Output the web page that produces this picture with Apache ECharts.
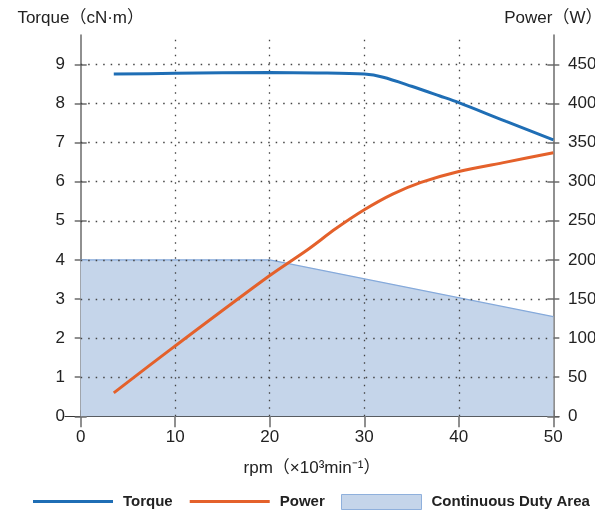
<!DOCTYPE html>
<html>
<head>
<meta charset="utf-8">
<script src="https://cdn.jsdelivr.net/npm/echarts@6.0.0/dist/echarts.min.js"></script>
<style>
  html, body { margin: 0; padding: 0; background: #fff; }
  #chart { width: 595px; height: 515px; }
</style>
</head>
<body>
<div id="chart"></div>
<script>
// 转矩曲线 (rpm x1000, cN·m)
var torqueData = [[3.5, 8.75], [10, 8.77], [20, 8.79], [25, 8.78], [30, 8.75], [32, 8.67], [35, 8.44], [38, 8.19], [40, 8.02], [45, 7.54], [50, 7.07]];
// 功率曲线 (rpm x1000, W)
var powerData = [[3.5, 30], [10, 90], [20, 180], [24, 213], [27, 240], [30, 264], [33, 284], [36, 299], [40, 313], [45, 325], [50, 337]];
// 连续工作区
var dutyData = [[0, 4], [20, 4], [50, 2.55]];
// 刻度
var xTicks = [0, 10, 20, 30, 40, 50];
var torqueTicks = [0, 1, 2, 3, 4, 5, 6, 7, 8, 9];
var powerTicks = [0, 50, 100, 150, 200, 250, 300, 350, 400, 450];
var gridX = [10, 20, 30, 40];
var gridY = [1, 2, 3, 4, 5, 6, 7, 8, 9];

var font = '"Liberation Sans", "Noto Sans CJK SC", sans-serif';
var axisColor = '#6b6b6b';
var textColor = '#222';
var torqueColor = '#1f6eb5';
var powerColor = '#e4612b';

// 点线网格 (markLine)
var gridLines = [];
gridX.forEach(function (v) { gridLines.push({ xAxis: v }); });
gridY.forEach(function (v) { gridLines.push([{ coord: [0, v] }, { coord: [50, v] }]); });

var legendText = { fontFamily: font, fontSize: 15, fontWeight: 'bold', color: textColor, padding: [0, 0, 0, 5] };

var myChart = echarts.init(document.getElementById('chart'));
var option = {
  animation: false,
  textStyle: { fontFamily: font },
  grid: { left: 65, right: 36, top: 35, bottom: 98.7, outerBoundsMode: 'none' },
  legend: [
    {
      left: 33, top: 494, width: 400, padding: 0,
      itemWidth: 80, itemHeight: 3, itemGap: 17,
      textStyle: legendText,
      data: [
        { name: 'Torque', icon: 'rect', itemStyle: { color: torqueColor } },
        { name: 'Power', icon: 'rect', itemStyle: { color: powerColor } }
      ]
    },
    {
      left: 341, top: 494, width: 300, padding: 0,
      itemWidth: 80, itemHeight: 15,
      textStyle: legendText,
      data: [
        { name: 'Continuous Duty Area', icon: 'rect', itemStyle: { color: '#c5d5ea', borderColor: '#8fb0dc', borderWidth: 1 } }
      ]
    }
  ],
  xAxis: [
    {
      type: 'value', min: -1.66, max: 50.6, position: 'bottom',
      axisLine: { onZero: true, onZeroAxisIndex: 0, lineStyle: { color: '#333', width: 1.2 } },
      axisTick: { customValues: xTicks, length: 11, lineStyle: { color: axisColor, width: 1.5 } },
      axisLabel: { customValues: xTicks, margin: 13, fontSize: 17, color: textColor, fontFamily: font },
      splitLine: { show: false },
      name: 'rpm（×10³min⁻¹）', nameLocation: 'middle', nameGap: 44,
      nameTextStyle: { fontSize: 17, color: textColor, fontFamily: font }
    },
    {
      // 只用来把右轴放到 50 的位置
      type: 'value', min: -51.66, max: 0.6, position: 'bottom', show: false,
      axisLine: { onZero: false }
    },
    {
      type: 'value', min: -1.66, max: 50.6, position: 'bottom',
      axisLine: { show: false, onZero: true, onZeroAxisIndex: 0 },
      axisTick: { customValues: xTicks, inside: true, length: 6, lineStyle: { color: axisColor, width: 1.5 } },
      axisLabel: { show: false },
      splitLine: { show: false }
    }
  ],
  yAxis: [
    {
      type: 'value', min: 0, max: 9.75, position: 'left',
      axisLine: { show: true, onZero: true, onZeroAxisIndex: 0, lineStyle: { color: axisColor, width: 1.5 } },
      axisTick: { show: true, customValues: torqueTicks, length: 6, lineStyle: { color: axisColor, width: 1.5 } },
      axisLabel: { customValues: torqueTicks, margin: 0, fontSize: 17, color: textColor, fontFamily: font },
      splitLine: { show: false },
      name: 'Torque（cN·m）', nameLocation: 'end', nameGap: 8,
      nameTextStyle: { fontSize: 17, color: textColor, fontFamily: font, align: 'center' }
    },
    {
      type: 'value', min: 0, max: 487.5, position: 'right',
      axisLine: { show: true, onZero: true, onZeroAxisIndex: 1, lineStyle: { color: axisColor, width: 1.5 } },
      axisTick: { show: true, customValues: powerTicks, length: 6, lineStyle: { color: axisColor, width: 1.5 } },
      axisLabel: { customValues: powerTicks, margin: 9, fontSize: 17, color: textColor, fontFamily: font },
      splitLine: { show: false },
      name: 'Power（W）', nameLocation: 'end', nameGap: 8,
      nameTextStyle: { fontSize: 17, color: textColor, fontFamily: font, align: 'center' }
    },
    {
      type: 'value', min: 0, max: 9.75, position: 'left',
      axisLine: { show: false, onZero: true, onZeroAxisIndex: 0 },
      axisTick: { show: true, inside: true, customValues: torqueTicks, length: 6, lineStyle: { color: axisColor, width: 1.5 } },
      axisLabel: { show: false },
      splitLine: { show: false }
    },
    {
      type: 'value', min: 0, max: 487.5, position: 'right',
      axisLine: { show: false, onZero: true, onZeroAxisIndex: 1 },
      axisTick: { show: true, inside: true, customValues: powerTicks, length: 6, lineStyle: { color: axisColor, width: 1.5 } },
      axisLabel: { show: false },
      splitLine: { show: false }
    }
  ],
  series: [
    {
      name: 'Continuous Duty Area',
      type: 'line',
      xAxisIndex: 0, yAxisIndex: 0,
      data: dutyData,
      symbol: 'none',
      z: 1,
      lineStyle: { color: '#86aadb', width: 1.2 },
      itemStyle: { color: '#c5d5ea' },
      areaStyle: { color: '#c5d5ea', opacity: 1 },
      markLine: {
        silent: true,
        symbol: 'none',
        z: 3,
        label: { show: false },
        lineStyle: { color: '#444', width: 1.3, type: [1.5, 6] },
        emphasis: { disabled: true },
        data: gridLines
      }
    },
    {
      name: 'Torque',
      type: 'line',
      xAxisIndex: 0, yAxisIndex: 0,
      data: torqueData,
      smooth: 0.3,
      symbol: 'none',
      z: 5,
      lineStyle: { color: torqueColor, width: 3 },
      itemStyle: { color: torqueColor }
    },
    {
      name: 'Power',
      type: 'line',
      xAxisIndex: 0, yAxisIndex: 1,
      data: powerData,
      smooth: 0.3,
      symbol: 'none',
      z: 5,
      lineStyle: { color: powerColor, width: 3 },
      itemStyle: { color: powerColor }
    }
  ]
};
myChart.setOption(option);
</script>
</body>
</html>
